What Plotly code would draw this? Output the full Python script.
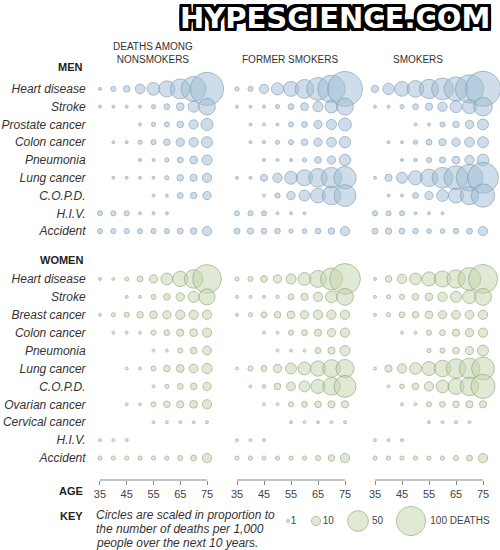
import plotly.graph_objects as go

# ---------------- data ----------------
ages = [35, 40, 45, 50, 55, 60, 65, 70, 75]
age_ticks = [35, 45, 55, 65, 75]

columns = ["DEATHS AMONG<br>NONSMOKERS", "FORMER SMOKERS", "SMOKERS"]

men_causes = ["Heart disease", "Stroke", "Prostate cancer", "Colon cancer", "Pneumonia",
              "Lung cancer", "C.O.P.D.", "H.I.V.", "Accident"]
women_causes = ["Heart disease", "Stroke", "Breast cancer", "Colon cancer", "Pneumonia",
                "Lung cancer", "C.O.P.D.", "Ovarian cancer", "Cervical cancer", "H.I.V.", "Accident"]

N = None
# deaths per 1,000 over next 10 years (rows follow men_causes), ages 35..75
men_never = [
    [1, 3, 5, 11, 19, 30, 46, 72, 127],
    [1, 1, 1, 1, 2, 4, 7, 14, 32],
    [N, N, N, 1, 2, 3, 5, 10, 17],
    [N, 1, 1, 2, 3, 5, 8, 10, 14],
    [N, N, N, 1, 1, 2, 4, 7, 12],
    [N, 1, 1, 1, 1, 2, 5, 6, 10],
    [N, N, N, N, 1, 1, 4, 5, 8],
    [3, 3, 3, 1, 1, 1, N, N, N],
    [3, 3, 3, 3, 3, 3, 4, 5, 10],
]
men_former = [
    [2, 3, 10, 17, 26, 41, 60, 87, 140],
    [1, 1, 1, 2, 4, 7, 12, 19, 33],
    [N, 1, 1, 1, 3, 4, 8, 12, 19],
    [N, 1, 1, 2, 3, 5, 8, 11, 15],
    [N, N, 1, 1, 1, 2, 5, 8, 15],
    [1, 1, 6, 10, 19, 30, 40, 50, 58],
    [N, N, 1, 3, 8, 14, 25, 40, 55],
    [3, 3, 3, 1, 1, 1, N, N, N],
    [4, 4.5, 4, 3.5, 2, 2.5, 3.5, 5, 10],
]
men_smokers = [
    [6, 15, 25, 32, 43, 55, 67, 93, 143],
    [1, 1, 2, 4, 6, 10, 16, 23, 40],
    [N, N, N, 1, 1, 3, 5, 8, 14],
    [N, 1, 1, 2, 4, 6, 8, 11, 14],
    [N, N, 1, 1.5, 3, 4, 7, 10, 16],
    [1, 6, 14, 23, 35, 50, 67, 83, 110],
    [N, 1, 1, 4, 8, 16, 26, 39, 63],
    [3, 3, 3, 1, 1, 1, N, N, N],
    [4, 4.5, 4, 3.5, 2.5, 2.5, 3.5, 4, 10],
]
women_never = [
    [1, 1, 2, 4, 8, 16, 27, 40, 96],
    [N, N, 1, 1, 3, 5, 8, 14, 30],
    [1, 2, 3, 5, 7, 8, 10, 10, 10],
    [N, 1, 1, 1, 3, 4, 6, 7, 10],
    [N, N, N, N, 1, 1, 3, 5, 9],
    [N, N, 1, 1, 3, 5, 7, 9, 12],
    [N, N, N, N, 1, 2, 4, 5, 8],
    [N, N, 1, 1, 3, 5, 6, 7, 10],
    [N, N, N, N, 1, 1, 1, 1, 1],
    [1, 1, 1, N, N, N, N, N, N],
    [2, 2, 2, 2, 2, 2, 3, 4, 10],
]
women_former = [
    [2, 3, 5, 8, 12, 19, 33, 56, 110],
    [1, 1, 1, 1.5, 4, 6, 10, 16, 33],
    [1, 2, 4, 5, 7, 8, 10, 10, 10],
    [N, N, 1, 1, 3, 4, 6, 8, 10],
    [N, N, N, 1, 1, 1, 4, 6, 12],
    [1, 3, 4, 8, 14, 19, 27, 36, 38],
    [N, 1, 1.5, 5, 9, 14, 23, 36, 56],
    [N, N, 1, 1, 3, 4, 5, 6, 6],
    [N, N, N, N, 1, 1, 1, 1, 1],
    [1, 1, 1, N, N, N, N, N, N],
    [2, 2, 2, 2, 2, 2, 3, 5, 10],
]
women_smokers = [
    [1, 5, 10, 16, 23, 30, 39, 60, 98],
    [1, 2, 3, 5, 7, 10, 14, 21, 33],
    [1, 2, 4, 5, 7, 8, 9, 9, 10],
    [N, N, 1, 1, 3, 4, 6, 8, 10],
    [N, N, N, N, 2, 3, 5, 8, 14],
    [1, 6, 10, 16, 23, 32, 44, 50, 60],
    [N, 1, 2.5, 5, 10, 19, 30, 40, 67],
    [N, N, 1, 1, 3, 4, 5, 6, 6],
    [N, N, N, N, 1, 1, 1, 1, N],
    [1, 1, 1, N, N, N, N, N, N],
    [2, 2, 2, 2, 2, 2, 3, 4, 10],
]

key_values = [1, 10, 50, 100]
key_labels = ["1", "10", "50", "100 DEATHS"]

# ---------------- styles / layout ----------------
W, H = 500, 550
FONT = "Liberation Sans, Arial, Helvetica, sans-serif"
MEN_FILL, MEN_LINE = "rgba(160,190,212,0.72)", "rgb(128,156,178)"
WOMEN_FILL, WOMEN_LINE = "rgba(196,213,172,0.72)", "rgb(150,166,128)"
SIZEREF = 0.233  # area-scaled bubbles


def px(p):
    return p / W


def py(p):
    return 1 - p / H


x_domains = [[86.6, 220.4], [223.5, 358.5], [361.5, 496.5]]
x_names = ["x", "x2", "x3"]
men_sets = [men_never, men_former, men_smokers]
women_sets = [women_never, women_former, women_smokers]

fig = go.Figure()


def add_block(data, causes, xa, ya, fill, line):
    xs, ys, ss = [], [], []
    for cause, row in zip(causes, data):
        for a, v in zip(ages, row):
            if v is not None:
                xs.append(a)
                ys.append(cause)
                ss.append(v)
    fig.add_trace(go.Scatter(
        x=xs, y=ys, mode="markers", xaxis=xa, yaxis=ya, cliponaxis=False,
        marker=dict(size=ss, sizemode="area", sizeref=SIZEREF, color=fill,
                    line=dict(color=line, width=1)),
        hoverinfo="skip", showlegend=False))


for i in range(3):
    add_block(men_sets[i], men_causes, x_names[i], "y", MEN_FILL, MEN_LINE)
    add_block(women_sets[i], women_causes, x_names[i], "y2", WOMEN_FILL, WOMEN_LINE)

# key
fig.add_trace(go.Scatter(
    x=[0.152, 0.264, 0.432, 0.644], y=[0.5] * 4, xaxis="x4", yaxis="y3",
    mode="markers+text", text=key_labels, textposition="middle right",
    textfont=dict(family=FONT, size=10, color="#444"), cliponaxis=False,
    marker=dict(size=key_values, sizemode="area", sizeref=SIZEREF, color=WOMEN_FILL,
                line=dict(color=WOMEN_LINE, width=1)),
    hoverinfo="skip", showlegend=False))

AXIS_Y = 480
layout = dict(
    width=W, height=H, margin=dict(l=0, r=0, t=0, b=0),
    paper_bgcolor="white", plot_bgcolor="white", showlegend=False,
    font=dict(family=FONT, color="#333"),
)
for i, name in enumerate(x_names):
    key = "xaxis" if i == 0 else f"xaxis{i+1}"
    layout[key] = dict(
        domain=[px(x_domains[i][0]), px(x_domains[i][1])], range=[30, 80],
        anchor="free", position=py(AXIS_Y), tickvals=age_ticks,
        ticks="outside", ticklen=4, tickcolor="#888", tickwidth=1,
        showline=False, showgrid=False, zeroline=False,
        tickfont=dict(family=FONT, size=11, color="#444"))

layout["yaxis"] = dict(
    domain=[py(240), py(80)], type="category", categoryarray=men_causes,
    range=[len(men_causes) - 0.5, -0.5], anchor="x", showgrid=False,
    zeroline=False, showline=False, ticks="",
    tickfont=dict(family=FONT, size=12, color="#333", style="italic"))
layout["yaxis2"] = dict(
    domain=[py(467), py(270)], type="category", categoryarray=women_causes,
    range=[len(women_causes) - 0.5, -0.5], anchor="x", showgrid=False,
    zeroline=False, showline=False, ticks="",
    tickfont=dict(family=FONT, size=12, color="#333", style="italic"))
layout["xaxis4"] = dict(domain=[0.5, 1], range=[0, 1], visible=False, anchor="y3")
layout["yaxis3"] = dict(domain=[0, py(492)], range=[0, 1], visible=False, anchor="x4")

fig.update_layout(**layout)

# axis base lines 35..75
for name in x_names:
    fig.add_shape(type="line", xref=name, yref="paper", x0=age_ticks[0], x1=age_ticks[-1],
                  y0=py(AXIS_Y), y1=py(AXIS_Y), line=dict(color="#888", width=1))

ann = []
col_x = [153, 290, 418]
col_y = [52.5, 59, 59]
for t, cx, cy in zip(columns, col_x, col_y):
    ann.append(dict(text=t, x=px(cx), y=py(cy), xanchor="center", yanchor="middle",
                    font=dict(size=10, color="#333", family=FONT)))
for t, yy in [("MEN", 67), ("WOMEN", 260), ("AGE", 491), ("KEY", 516)]:
    ann.append(dict(text=t, x=px(85), y=py(yy), xanchor="right", yanchor="middle",
                    font=dict(size=11, color="#222", family=FONT, weight="bold")))
key_lines = ["Circles are scaled in proportion to", "the number of deaths per 1,000",
             "people over the next 10 years."]
for i, t in enumerate(key_lines):
    ann.append(dict(text=t, x=px(95), y=py(515 + 14 * i), xanchor="left", yanchor="middle",
                    borderpad=0,
                    font=dict(size=12, color="#333", family=FONT, style="italic")))
outline = ", ".join(f"{dx}px {dy}px 0 #000" for dx in (-3, -2, 0, 2, 3) for dy in (-3, -2, 0, 2, 3))
ann.append(dict(text="HYPESCIENCE.COM", x=px(335), y=py(18), xanchor="center", yanchor="middle",
                font=dict(size=29, color="white", family="DejaVu Sans, sans-serif", weight="bold",
                          shadow=outline)))
for a in ann:
    a.update(xref="paper", yref="paper", showarrow=False)
fig.update_layout(annotations=ann)

fig.write_html("out.html")
